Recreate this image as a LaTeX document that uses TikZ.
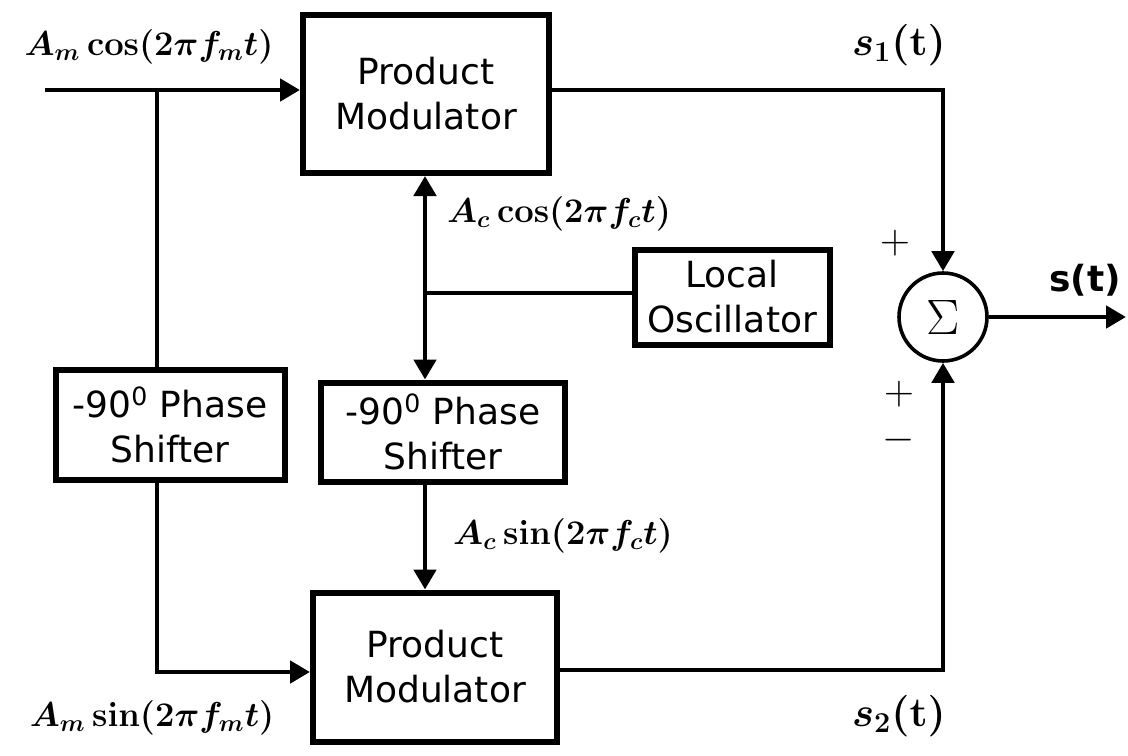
\documentclass[tikz,border=0pt]{standalone}
\usepackage{amsfonts, amsmath, amssymb}
\usepackage[no-math]{fontspec}
\usepackage{tikz}
\usetikzlibrary{calc, arrows.meta}

\newfontfamily\boxfont{DejaVu Sans}

\begin{document}
\begin{tikzpicture}[x=0.5pt, y=-0.5pt,
    block/.style={draw, line width=3pt, align=center, inner sep=0pt,
        font=\boxfont\fontsize{18}{22.5}\selectfont},
    sig/.style={line width=2.4pt},
    arr/.style={sig, -{Triangle[length=10pt, width=11pt]}},
    lbl/.style={font=\fontsize{17.5}{20}\selectfont\boldmath},
    sgn/.style={inner sep=0pt, align=center, font=\fontsize{22}{23}\selectfont}]
                \useasboundingbox (0,0) rectangle (1128,755);

                % blocks
                \node[block, minimum width=123pt, minimum height=79pt] (pmA) at (426,94) {Product\\Modulator};
                \node[block, minimum width=122pt, minimum height=74.5pt] (pmB) at (435,667) {Product\\Modulator};
                \node[block, minimum width=114.5pt, minimum height=55pt] (psL) at (170,425) {-90\textsuperscript{0} Phase\\Shifter};
                \node[block, minimum width=122pt, minimum height=49.5pt] (psM) at (443,432) {-90\textsuperscript{0} Phase\\Shifter};
                \node[block, minimum width=97.5pt, minimum height=47.5pt] (osc) at (732,297) {Local\\Oscillator};
                \node[draw, circle, line width=1.8pt, minimum size=44pt, inner sep=0pt,
                      font=\fontsize{26}{26}\selectfont] (sum) at (943,317) {$\Sigma$};

                % corner points
                \coordinate (in) at (45,90);
                \coordinate (brL) at (157,90);
                \coordinate (cL) at (157,672);
                \coordinate (cA) at (943,90);
                \coordinate (cB) at (943,670);
                \coordinate (jn) at (425,293);
                \coordinate (out) at (1126,317);

                % message path
                \draw[arr] (in) -- (in -| pmA.west);
                \draw[sig] (brL) -- (brL |- psL.north);
                \draw[arr] (psL.south -| cL) -- (cL) -- (cL -| pmB.west);

                % carrier path
                \draw[sig] (osc.west |- jn) -- (jn);
                \draw[arr] (jn) -- (jn |- pmA.south);
                \draw[arr] (jn) -- (jn |- psM.north);
                \draw[arr] (psM.south -| jn) -- (pmB.north -| jn);

                % outputs to summer
                \draw[arr] (pmA.east |- cA) -- (cA) -- (sum.north);
                \draw[arr] (pmB.east |- cB) -- (cB) -- (sum.south);
                \draw[arr] (sum.east) -- (out);

                % signal labels
                \node[lbl] (lmc) at (149,47) {$A_m\cos(2\pi f_m t)$};
                \node[lbl] (lms) at (152,718) {$A_m\sin(2\pi f_m t)$};
                \node[lbl] (lcc) at (559,214) {$A_c\cos(2\pi f_c t)$};
                \node[lbl] (lcs) at (563,536) {$A_c\sin(2\pi f_c t)$};
                \node[lbl, font=\fontsize{19.5}{22}\selectfont\boldmath] (ls1) at (899,45) {$s_1\mathbf{(t)}$};
                \node[lbl, font=\fontsize{19.5}{22}\selectfont\boldmath] (ls2) at (899,716) {$s_2\mathbf{(t)}$};
                \node[font=\boxfont\bfseries\fontsize{18}{20}\selectfont] (ls) at (1085,280) {s(t)};

                % signs
                \node[sgn] (sgnA) at (895,243) {$+$};
                \node[sgn] (sgnB) at (899,418) {$+$\\$-$};
\end{tikzpicture}
\end{document}
